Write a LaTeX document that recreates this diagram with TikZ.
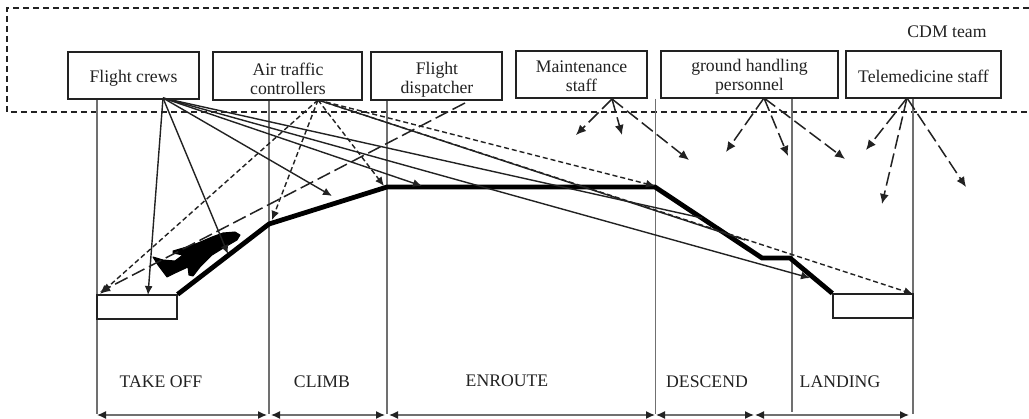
\documentclass[tikz,border=0pt]{standalone}
\usepackage{fontspec}
\setmainfont{Liberation Serif}
\usetikzlibrary{arrows.meta}
\definecolor{ink}{HTML}{222222}
\definecolor{guide}{HTML}{707070}
\tikzset{
  x=1pt,y=-1pt,
  rolebox/.style={draw=ink,line width=1.6pt,fill=white,minimum height=47pt,inner sep=0pt},
  boxtext/.style={inner sep=0pt,align=center,font=\fontsize{17.7}{19}\selectfont,text=ink},
  rw/.style={draw=ink,line width=1.3pt,fill=white,inner sep=0pt,minimum width=80pt,minimum height=24pt},
  lbl/.style={inner sep=0pt,font=\fontsize{17.7}{19}\selectfont,text=ink},
  guideline/.style={draw=guide,line width=1.4pt},
  solidline/.style={draw=ink,line width=1.4pt},
  solidarrow/.style={solidline,-{Latex[length=9pt,width=8pt]}},
  shortdash/.style={draw=ink,line width=1.4pt,dash pattern=on 5pt off 3pt,-{Latex[length=9pt,width=8pt]}},
  longdash/.style={draw=ink,line width=1.5pt,dash pattern=on 14pt off 5pt,-{Latex[length=10pt,width=9pt]}},
  span/.style={draw=guide,line width=1.4pt,{Latex[length=9pt,width=8pt,color=ink]}-{Latex[length=9pt,width=8pt,color=ink]}},
  profile/.style={draw=black,line width=4.8pt,line join=miter}
}
\begin{document}
\begin{tikzpicture}
\path[use as bounding box,fill=white] (0,0) rectangle (1029,419);
% CDM team frame
\draw[ink,line width=1.6pt,dash pattern=on 6pt off 4pt] (1029,8) -- (7,8) -- (7,112) -- (1029,112);
% guides
\coordinate (g1t) at (97,99);  \coordinate (g1b) at (97,414);
\coordinate (g2t) at (269,100);\coordinate (g2b) at (269,414);
\coordinate (g3t) at (387,100);\coordinate (g3b) at (387,414);
\coordinate (g4t) at (655.5,99);\coordinate (g4b) at (655.5,414);
\coordinate (g5t) at (792,98); \coordinate (g5b) at (792,412);
\coordinate (g6t) at (913,98); \coordinate (g6b) at (913,414);
\foreach \g in {1,...,6} \draw[guideline] (g\g t) -- (g\g b);
% role boxes
\node[rolebox,minimum width=131pt] (crew) at (133.5,75.5) {};
\node[rolebox,minimum width=149pt,minimum height=48pt] (atc) at (287.5,76) {};
\node[rolebox,minimum width=131pt,minimum height=48pt] (disp) at (436.5,76) {};
\node[rolebox,minimum width=131pt] (maint) at (581.5,74.5) {};
\node[rolebox,minimum width=177pt] (ground) at (749.5,74.5) {};
\node[rolebox,minimum width=155pt] (tele) at (923.5,74.5) {};
\node[boxtext] (crewt) at (133.5,78) {Flight crews};
\node[boxtext] (atct) at (288,78.5) {Air traffic\\controllers};
\node[boxtext] (dispt) at (437,79.5) {Flight\\dispatcher};
\node[boxtext] (maintt) at (581.5,76.5) {Maintenance\\staff};
\node[boxtext] (groundt) at (749.5,77) {ground handling\\personnel};
\node[boxtext] (telet) at (923.5,76.5) {Telemedicine staff};
\node[lbl] (cdm) at (947,32) {CDM team};
% runways
\node[rw] (rwl) at (137,307) {};
\node[rw] (rwr) at (873,306) {};
% profile
\coordinate (p1) at (269,224);
\coordinate (p2) at (387,187);
\coordinate (p3) at (655,187);
\coordinate (p4) at (762,258);
\coordinate (p5) at (790,258);
\draw[profile] (rwl.north east) -- (p1) -- (p2) -- (p3) -- (p4) -- (p5) -- (rwr.north west);
% aircraft
\fill[black,draw=black,line width=1pt,line join=round] (240,235) -- (235,232) -- (223,233) -- (212,237) -- (198,243) -- (190,246) -- (173,251) -- (173,253) -- (183,255) -- (175,261) -- (163,260) -- (153,257) -- (158,265) -- (167,277) -- (175,273) -- (188,267) -- (189,275) -- (193,276) -- (200,267) -- (212,255) -- (225,247) -- (237,240) -- cycle;
% sources
\coordinate (cs) at (163,98);
\coordinate (as) at (318,100);
\coordinate (ds) at (465,103);
\coordinate (ms) at (612,99);
\coordinate (gs) at (764,98);
\coordinate (ts) at (907,98);
% flight crews
\coordinate (c1) at (148,295);
\coordinate (c2) at (228,254);
\coordinate (c3) at (332,196);
\coordinate (c4) at (422,186);
\coordinate (c5) at (702,218);
\coordinate (c6) at (810,278);
\foreach \e in {c1,c2,c3,c4,c6} \draw[solidarrow] (cs) -- (\e);
\draw[solidline] (cs) -- (c5);
% controllers
\coordinate (a1) at (100,294);
\coordinate (a2) at (272,220);
\coordinate (a3) at (384,186);
\coordinate (a4) at (655,186);
\coordinate (a5) at (913,294);
\coordinate (a6) at (745,240);
\foreach \e in {a1,a2,a3,a4,a5} \draw[shortdash] (as) -- (\e);
\draw[solidline] (as) -- (a6);
% dispatcher
\coordinate (d1) at (100,292);
\draw[longdash] (ds) -- (d1);
% maintenance
\coordinate (m1) at (576,135);
\coordinate (m2) at (622,135);
\coordinate (m3) at (689,160);
\foreach \e in {m1,m2,m3} \draw[longdash] (ms) -- (\e);
% ground
\coordinate (h1) at (726,152);
\coordinate (h2) at (788,156);
\coordinate (h3) at (845,159);
\foreach \e in {h1,h2,h3} \draw[longdash] (gs) -- (\e);
% telemedicine
\coordinate (t1) at (866,150);
\coordinate (t2) at (882,204);
\coordinate (t3) at (966,187);
\foreach \e in {t1,t2,t3} \draw[longdash] (ts) -- (\e);
% phase labels
\node[lbl] (l1) at (161,381.5) {TAKE OFF};
\node[lbl] (l2) at (322,381.5) {CLIMB};
\node[lbl] (l3) at (507,380.5) {ENROUTE};
\node[lbl] (l4) at (707,381.5) {DESCEND};
\node[lbl] (l5) at (840,381.5) {LANDING};
% spans
\coordinate (s0) at (97,415);
\coordinate (s1a) at (267,415);\coordinate (s1b) at (271,415);
\coordinate (s2a) at (385,415);\coordinate (s2b) at (389,415);
\coordinate (s3a) at (655,415);\coordinate (s3b) at (656,415);
\coordinate (s4a) at (754,415);\coordinate (s4b) at (755,415);
\coordinate (s5) at (909,415);
\draw[span] (s0) -- (s1a);
\draw[span] (s1b) -- (s2a);
\draw[span] (s2b) -- (s3a);
\draw[span] (s3b) -- (s4a);
\draw[span] (s4b) -- (s5);
\end{tikzpicture}
\end{document}
